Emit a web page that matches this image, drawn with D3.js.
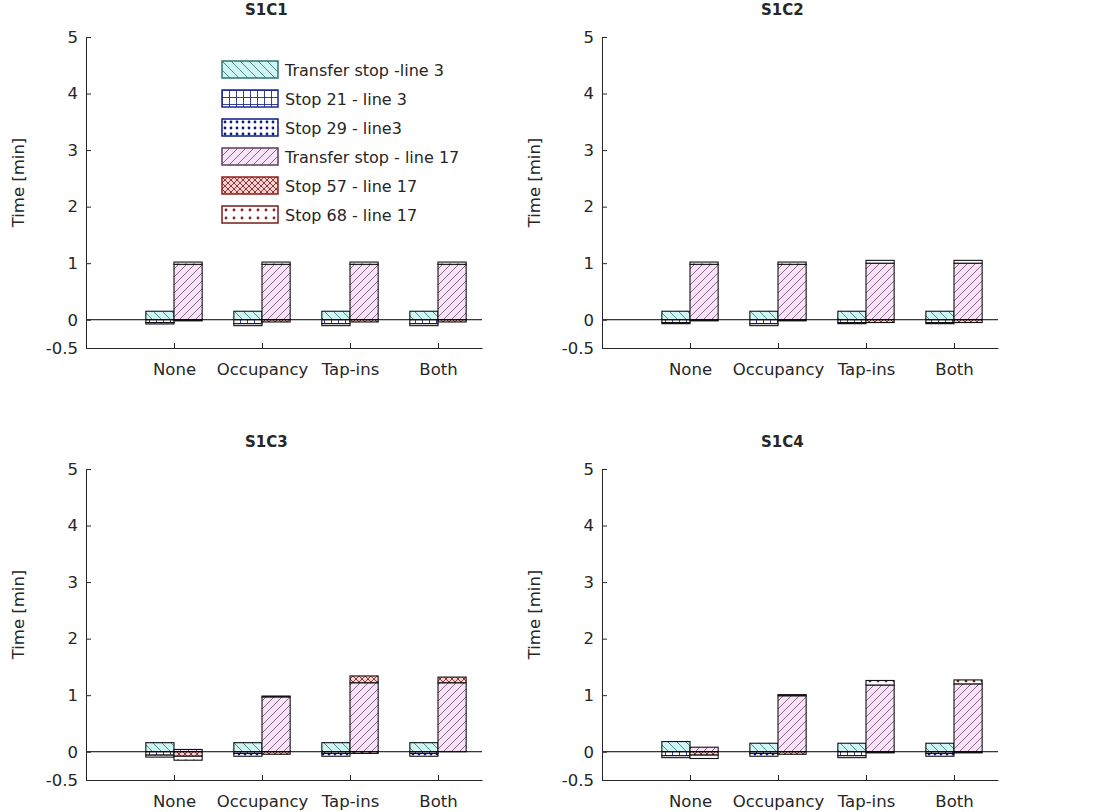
<!DOCTYPE html>
<html>
<head>
<meta charset="utf-8">
<title>Stop times per scenario</title>
<script src="https://cdn.jsdelivr.net/npm/d3@7/dist/d3.min.js"></script>
<style>
  body { margin: 0; background: #fff; }
  text { font-family: "DejaVu Sans", sans-serif; fill: #262626; }
  .axis path, .axis line { stroke: #262626; }
  .title { font-weight: bold; }
</style>
</head>
<body>
<script>

var panels = ["S1C1", "S1C2", "S1C3", "S1C4"];
var categories = ["None", "Occupancy", "Tap-ins", "Both"];
var seriesNames = ["Transfer stop -line 3", "Stop 21 - line 3", "Stop 29 - line3",
                   "Transfer stop - line 17", "Stop 57 - line 17", "Stop 68 - line 17"];
var yTicks = [-0.5, 0, 1, 2, 3, 4, 5];

// one row per panel, one value per category (minutes)
var transferLine3 = [
  [0.15, 0.15, 0.15, 0.15],
  [0.15, 0.15, 0.15, 0.15],
  [0.16, 0.16, 0.16, 0.16],
  [0.18, 0.15, 0.15, 0.15]
];
var stop21 = [
  [-0.05, -0.07, -0.07, -0.07],
  [-0.05, -0.07, -0.05, -0.05],
  [-0.06, -0.03, -0.03, -0.03],
  [-0.07, -0.03, -0.07, -0.03]
];
var stop29 = [
  [-0.025, -0.035, -0.035, -0.035],
  [-0.02, -0.035, -0.02, -0.02],
  [-0.035, -0.05, -0.05, -0.05],
  [-0.035, -0.05, -0.035, -0.05]
];
var transferLine17 = [
  [0.98, 0.98, 0.98, 0.98],
  [0.98, 0.98, 1.0, 1.0],
  [0.04, 0.97, 1.22, 1.22],
  [0.08, 0.99, 1.18, 1.2]
];
var stop57 = [
  [-0.02, -0.04, -0.04, -0.04],
  [-0.02, -0.02, -0.05, -0.05],
  [-0.08, -0.045, 0.12, 0.1],
  [-0.06, -0.045, -0.02, -0.02]
];
var stop68 = [
  [0.04, 0.04, 0.04, 0.04],
  [0.04, 0.04, 0.05, 0.05],
  [-0.07, 0.015, -0.03, 0.0],
  [-0.06, 0.02, 0.08, 0.07]
];

var width = 1106, height = 812;
var aw = 396, ah = 311;
var origins = [[86, 37], [602, 37], [86, 469], [602, 469]];
var barW = 0.32;

var styles = [
  {id: "p0", bg: "#cff4f4", ink: "#3f7f80", kind: "back", size: 9, edge: "#2f7373"},
  {id: "p1", bg: "#ffffff", ink: "#1f2a8a", kind: "grid", size: 7, edge: "#1f2a8a"},
  {id: "p2", bg: "#ffffff", ink: "#0d1a80", kind: "dots", size: 6, edge: "#0d1a80"},
  {id: "p3", bg: "#f9e3f9", ink: "#7a5a7a", kind: "fwd", size: 8, edge: "#5e3d5e"},
  {id: "p4", bg: "#f3d3d3", ink: "#8e1f1f", kind: "cross", size: 6, edge: "#8e1f1f"},
  {id: "p5", bg: "#ffffff", ink: "#8e1f1f", kind: "dots", size: 8, edge: "#7a1c1c"}
];

var svg = d3.select("body").append("svg")
  .attr("width", width).attr("height", height);

var defs = svg.append("defs");
styles.forEach(function(s) {
  var n = s.size;
  var p = defs.append("pattern").attr("id", s.id)
    .attr("patternUnits", "userSpaceOnUse")
    .attr("width", n).attr("height", n);
  p.append("rect").attr("width", n).attr("height", n).attr("fill", s.bg);
  var d = "";
  if (s.kind == "back") d = "M0,0L" + n + "," + n + "M-1," + (n - 1) + "L1," + (n + 1) + "M" + (n - 1) + ",-1L" + (n + 1) + ",1";
  if (s.kind == "fwd") d = "M0," + n + "L" + n + ",0M-1,1L1,-1M" + (n - 1) + "," + (n + 1) + "L" + (n + 1) + "," + (n - 1);
  if (s.kind == "grid") d = "M0,0.5H" + n + "M0.5,0V" + n;
  if (s.kind == "cross") d = "M0,0L" + n + "," + n + "M0," + n + "L" + n + ",0";
  if (d) p.append("path").attr("d", d).attr("stroke", s.ink).attr("stroke-width", 0.9).attr("fill", "none");
  if (s.kind == "dots") p.append("circle").attr("cx", n / 2).attr("cy", n / 2).attr("r", 1.4).attr("fill", s.ink);
});

var x = d3.scaleLinear().domain([0, 4.5]).range([0, aw]);
var y = d3.scaleLinear().domain([-0.5, 5]).range([ah, 0]);

panels.forEach(function(name, pi) {
  var g = svg.append("g").attr("transform", "translate(" + origins[pi][0] + "," + origins[pi][1] + ")");

  var groups = [
    [transferLine3[pi], stop21[pi], stop29[pi]],
    [transferLine17[pi], stop57[pi], stop68[pi]]
  ];

  categories.forEach(function(c, ci) {
    groups.forEach(function(series, gi) {
      var x0 = gi == 0 ? x(ci + 1 - barW) : x(ci + 1);
      var pos = 0, neg = 0;
      series.forEach(function(vals, si) {
        var v = vals[ci];
        var lo, hi;
        if (v >= 0) { lo = pos; hi = pos + v; pos = hi; }
        else { hi = neg; lo = neg + v; neg = lo; }
        if (hi - lo <= 0) return;
        g.append("rect")
          .attr("x", x0)
          .attr("width", x(barW) - x(0))
          .attr("y", y(hi))
          .attr("height", y(lo) - y(hi))
          .attr("fill", "url(#p" + (gi * 3 + si) + ")")
          .attr("stroke", "#111")
          .attr("stroke-width", 1.1);
      });
    });
  });

  // zero baseline
  g.append("line")
    .attr("x1", x(0)).attr("x2", x(4.5))
    .attr("y1", y(0)).attr("y2", y(0))
    .attr("stroke", "#000").attr("stroke-width", 1);

  g.append("g").attr("class", "axis")
    .call(d3.axisLeft(y).tickValues(yTicks).tickSize(-5).tickSizeOuter(0).tickPadding(8)
      .tickFormat(function(d) { return d == -0.5 ? "-0.5" : d; }));
  g.append("g").attr("class", "axis").attr("transform", "translate(0," + ah + ")")
    .call(d3.axisBottom(x).tickValues([1, 2, 3, 4]).tickSize(-5).tickSizeOuter(0).tickPadding(15)
      .tickFormat(function(d) { return categories[d - 1]; }));
  g.selectAll(".axis text").attr("font-size", 16.5).attr("font-family", "DejaVu Sans").style("fill", "#262626");

  g.append("text").attr("class", "title")
    .attr("x", x(2.05)).attr("y", -22)
    .attr("text-anchor", "middle").attr("font-size", 15)
    .text(name);

  g.append("text")
    .attr("transform", "translate(-62," + (ah / 2 - 10) + ") rotate(-90)")
    .attr("text-anchor", "middle").attr("font-size", 16.5)
    .text("Time [min]");

  if (pi == 0) {
    var lg = g.append("g").attr("transform", "translate(136,24)");
    seriesNames.forEach(function(s, i) {
      var row = lg.append("g").attr("transform", "translate(0," + (i * 29) + ")");
      row.append("rect").attr("x", 0).attr("y", 0).attr("width", 56).attr("height", 17)
        .attr("fill", "url(#p" + i + ")")
        .attr("stroke", styles[i].edge).attr("stroke-width", 1.5);
      row.append("text").attr("x", 63).attr("y", 9).attr("dy", "0.35em")
        .attr("font-size", 16).text(s);
    });
  }
});

</script>
</body>
</html>
